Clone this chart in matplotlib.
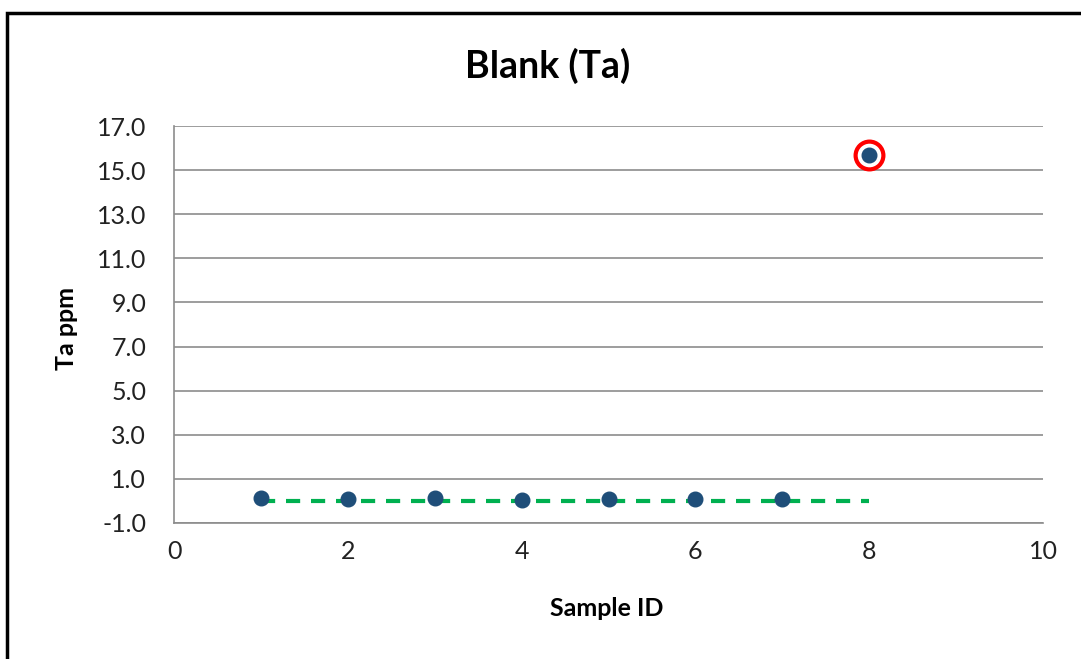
import matplotlib
matplotlib.use("Agg")
import matplotlib.pyplot as plt
from matplotlib.patches import Rectangle

# Blank results for tantalum
sample_id = [1, 2, 3, 4, 5, 6, 7, 8]
ta_ppm = [0.12, 0.08, 0.15, 0.05, 0.07, 0.08, 0.07, 15.7]

# Expected blank level and flagged sample
expected_x = [1, 8]
expected_y = [0.0, 0.0]
flagged_id = [8]
flagged_val = [15.7]

x_ticks = [0, 2, 4, 6, 8, 10]
y_ticks = [-1.0, 1.0, 3.0, 5.0, 7.0, 9.0, 11.0, 13.0, 15.0, 17.0]

plt.rcParams["font.family"] = ["Lato", "DejaVu Sans"]

W, H = 1081, 659
fig = plt.figure(figsize=(W / 100, H / 100), dpi=100)
ax = fig.add_axes([174 / W, 1 - 523 / H, (1043 - 174) / W, (523 - 126) / H])

ax.plot(expected_x, expected_y, color="#00B050", lw=3, ls=(0, (3.4, 2.6)), zorder=2)
ax.plot(sample_id, ta_ppm, ls="none", marker="o", ms=10.5, color="#1F4E79", zorder=3)
ax.plot(flagged_id, flagged_val, ls="none", marker="o", ms=20, mfc="none",
        mec="#FF0000", mew=3, zorder=4)

ax.set_xlim(0, 10)
ax.set_ylim(-1.0, 17.0)
ax.set_xticks(x_ticks)
ax.set_yticks(y_ticks)
ax.set_yticklabels([f"{v:.1f}" for v in y_ticks])
ax.tick_params(axis="both", length=0, labelsize=18, colors="#222222")
ax.tick_params(axis="x", pad=12)
ax.tick_params(axis="y", pad=20)

ax.grid(axis="y", color="#8C8C8C", lw=1.2)
ax.set_axisbelow(True)
for side in ("top", "right"):
    ax.spines[side].set_visible(False)
for side in ("left", "bottom"):
    ax.spines[side].set_color("#8C8C8C")
    ax.spines[side].set_linewidth(1.2)

fig.text(548 / W, 1 - 66 / H, "Blank (Ta)", fontsize=27, fontweight="bold",
         ha="center", va="center")
fig.text(607 / W, 1 - 608 / H, "Sample ID", fontsize=18, fontweight="bold",
         ha="center", va="center")
fig.text(66 / W, 1 - 328 / H, "Ta ppm", fontsize=18, fontweight="bold",
         ha="center", va="center", rotation=90)

# Chart-area border (open to the right and bottom)
fig.patches.append(Rectangle((7 / W, -0.1), 1.2, (H - 13) / H + 0.1,
                             transform=fig.transFigure, fill=False,
                             edgecolor="black", lw=2.5, zorder=10))

fig.savefig("out.png", dpi=100)
